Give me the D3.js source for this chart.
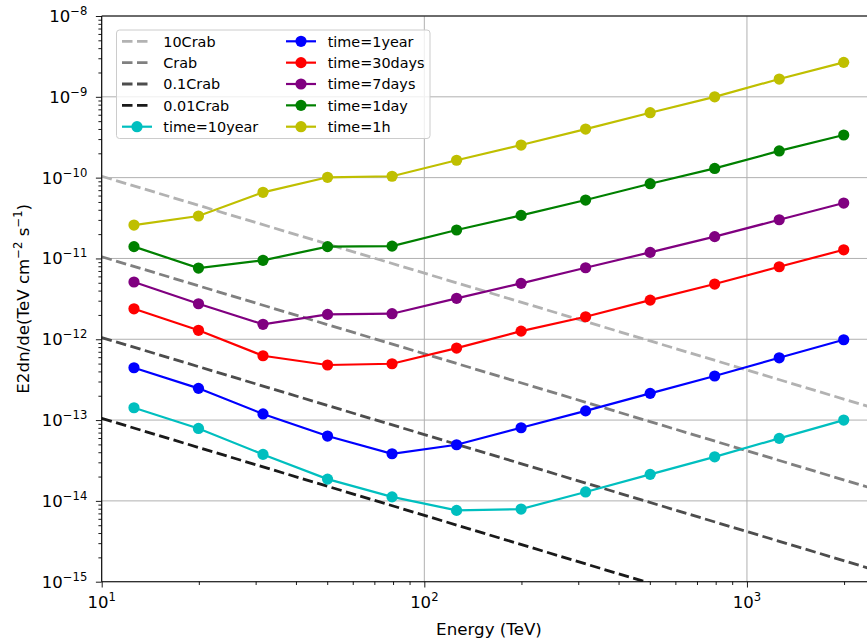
<!DOCTYPE html>
<html><head><meta charset="utf-8">
<script src="https://cdn.jsdelivr.net/npm/d3@7"></script>
<style>body{margin:0;background:#fff;overflow:hidden} text{font-family:"DejaVu Sans",sans-serif;fill:#000}</style>
</head><body><svg id="c" width="867" height="642"></svg>
<script>
// ---- data ----
const energies = [12.59, 19.95, 31.62, 50.12, 79.43, 125.9, 199.5, 316.2, 501.2, 794.3, 1259, 1995];
const time10year = [1.42e-13, 7.88e-14, 3.76e-14, 1.86e-14, 1.12e-14, 7.63e-15, 7.92e-15, 1.29e-14, 2.13e-14, 3.51e-14, 5.94e-14, 1.0e-13];
const time1year  = [4.44e-13, 2.47e-13, 1.19e-13, 6.34e-14, 3.83e-14, 4.95e-14, 8.03e-14, 1.30e-13, 2.14e-13, 3.51e-13, 5.90e-13, 9.86e-13];
const time30days = [2.38e-12, 1.29e-12, 6.25e-13, 4.80e-13, 4.98e-13, 7.78e-13, 1.26e-12, 1.90e-12, 3.05e-12, 4.82e-12, 7.89e-12, 1.28e-11];
const time7days  = [5.11e-12, 2.75e-12, 1.53e-12, 2.03e-12, 2.07e-12, 3.21e-12, 4.92e-12, 7.67e-12, 1.19e-11, 1.86e-11, 3.01e-11, 4.85e-11];
const time1day   = [1.40e-11, 7.61e-12, 9.48e-12, 1.40e-11, 1.42e-11, 2.25e-11, 3.41e-11, 5.28e-11, 8.41e-11, 1.30e-10, 2.14e-10, 3.37e-10];
const time1h     = [2.59e-11, 3.35e-11, 6.58e-11, 1.01e-10, 1.04e-10, 1.64e-10, 2.53e-10, 3.99e-10, 6.36e-10, 1.00e-9, 1.66e-9, 2.67e-9];

const crabEnergies = [10, 2512];
const crab10x  = [1.04e-10, 1.38e-13];
const crab1x   = [1.05e-11, 1.38e-14];
const crab01x  = [1.05e-12, 1.38e-15];
const crab001x = [1.05e-13, 1.38e-16];

const xTicks = [10, 100, 1000];
const yTicks = [1e-15, 1e-14, 1e-13, 1e-12, 1e-11, 1e-10, 1e-9, 1e-8];

const crabSeries = [
  {name: "10Crab", values: crab10x, color: "#b2b2b2"},
  {name: "Crab", values: crab1x, color: "#808080"},
  {name: "0.1Crab", values: crab01x, color: "#4d4d4d"},
  {name: "0.01Crab", values: crab001x, color: "#1a1a1a"}
];
const timeSeries = [
  {name: "time=10year", values: time10year, color: "#00bfbf"},
  {name: "time=1year", values: time1year, color: "#0000ff"},
  {name: "time=30days", values: time30days, color: "#ff0000"},
  {name: "time=7days", values: time7days, color: "#800080"},
  {name: "time=1day", values: time1day, color: "#008000"},
  {name: "time=1h", values: time1h, color: "#bfbf00"}
];

// ---- layout ----
const L = 101.7, R = 876, T = 16, B = 581.7;
const svg = d3.select("#c");
const x = d3.scaleLog().domain([10, 2512]).range([L, R]);
const y = d3.scaleLog().domain([1e-15, 1e-8]).range([B, T]);

svg.append("defs").append("clipPath").attr("id", "clip")
  .append("rect").attr("x", L).attr("y", T).attr("width", R - L).attr("height", B - T);

// grid
const grid = svg.append("g");
xTicks.forEach(t => grid.append("line").attr("x1", x(t)).attr("x2", x(t)).attr("y1", T).attr("y2", B)
  .attr("stroke", "#b0b0b0").attr("stroke-width", 1));
yTicks.forEach(t => grid.append("line").attr("x1", L).attr("x2", R).attr("y1", y(t)).attr("y2", y(t))
  .attr("stroke", "#b0b0b0").attr("stroke-width", 1));

const plot = svg.append("g").attr("clip-path", "url(#clip)");
const line = d3.line().x(d => x(d[0])).y(d => y(d[1]));

crabSeries.forEach(s => {
  plot.append("path").datum(crabEnergies.map((e, i) => [e, s.values[i]]))
    .attr("d", line).attr("fill", "none").attr("stroke", s.color)
    .attr("stroke-width", 2.8).attr("stroke-dasharray", "10.5,4.5");
});

timeSeries.forEach(s => {
  const pts = energies.map((e, i) => [e, s.values[i]]);
  plot.append("path").datum(pts).attr("d", line).attr("fill", "none")
    .attr("stroke", s.color).attr("stroke-width", 2.2);
  plot.selectAll(null).data(pts).enter().append("circle")
    .attr("cx", d => x(d[0])).attr("cy", d => y(d[1])).attr("r", 5.6).attr("fill", s.color);
});

// axes
const xAxis = d3.axisBottom(x).tickValues(xTicks).tickSize(5.8).tickFormat("");
const gx = svg.append("g").attr("transform", `translate(0,${B})`).call(xAxis);
const xMinor = [];
[10, 100, 1000].forEach(d => { for (let k = 2; k <= 9; k++) { const v = d * k; if (v <= 2512) xMinor.push(v); } });
const gxm = svg.append("g").attr("transform", `translate(0,${B})`)
  .call(d3.axisBottom(x).tickValues(xMinor).tickSize(3.3).tickFormat(""));
const yAxis = d3.axisLeft(y).tickValues(yTicks).tickSize(5.8).tickFormat("");
const gy = svg.append("g").attr("transform", `translate(${L},0)`).call(yAxis);
const yMinor = [];
yTicks.slice(0, -1).forEach(d => { for (let k = 2; k <= 9; k++) yMinor.push(d * k); });
const gym = svg.append("g").attr("transform", `translate(${L},0)`)
  .call(d3.axisLeft(y).tickValues(yMinor).tickSize(3.3).tickFormat(""));
[gx, gxm, gy, gym].forEach(g => {
  g.select(".domain").remove();
  g.selectAll(".tick line").attr("stroke", "#000").attr("stroke-width", 0.9);
});

// spines
svg.append("line").attr("x1", L).attr("x2", L).attr("y1", T).attr("y2", B).attr("stroke", "#000").attr("stroke-width", 1.1);
svg.append("line").attr("x1", L).attr("x2", R).attr("y1", B).attr("y2", B).attr("stroke", "#000").attr("stroke-width", 1.1);
svg.append("line").attr("x1", L).attr("x2", R).attr("y1", T).attr("y2", T).attr("stroke", "#000").attr("stroke-width", 1.1);
svg.append("line").attr("x1", R).attr("x2", R).attr("y1", T).attr("y2", B).attr("stroke", "#000").attr("stroke-width", 1.1);

// tick labels
const fs = 16.5, efs = 11.6;
xTicks.forEach(t => {
  const tx = svg.append("text").attr("x", x(t)).attr("y", B + 26.6).attr("text-anchor", "middle").attr("font-size", fs);
  tx.append("tspan").text("10");
  tx.append("tspan").attr("dy", -7).attr("font-size", efs).text(String(Math.round(Math.log10(t))));
});
yTicks.forEach(t => {
  const tx = svg.append("text").attr("x", L - 14.4).attr("y", y(t) + 6).attr("text-anchor", "end").attr("font-size", fs);
  tx.append("tspan").text("10");
  tx.append("tspan").attr("dy", -7).attr("font-size", efs).text("\u2212" + Math.abs(Math.round(Math.log10(t))));
});

// axis labels
svg.append("text").attr("x", 489).attr("y", 635).attr("text-anchor", "middle").attr("font-size", 16.7).text("Energy (TeV)");
const yl = svg.append("text").attr("transform", `translate(28.5,${(T + B) / 2}) rotate(-90)`)
  .attr("text-anchor", "middle").attr("font-size", 16.7);
yl.append("tspan").text("E2dn/de(TeV cm");
yl.append("tspan").attr("dy", -7).attr("font-size", efs).text("\u22122");
yl.append("tspan").attr("dy", 7).text(" s");
yl.append("tspan").attr("dy", -7).attr("font-size", efs).text("\u22121");
yl.append("tspan").attr("dy", 7).text(")");

// legend
const lg = svg.append("g");
lg.append("rect").attr("x", 116.5).attr("y", 30).attr("width", 313.5).attr("height", 108.5).attr("rx", 3)
  .attr("fill", "#fff").attr("fill-opacity", 0.8).attr("stroke", "#cccccc").attr("stroke-width", 1);
const legendItems = crabSeries.map(s => ({...s, dashed: true})).concat(timeSeries.map(s => ({...s, dashed: false})));
legendItems.forEach((s, i) => {
  const col = i < 5 ? 0 : 1;
  const row = i < 5 ? i : i - 5;
  const cy = 41.3 + row * 21.35;
  const hx = col === 0 ? 122 : 286;
  const tx = col === 0 ? 163.3 : 327.7;
  const ln = lg.append("line").attr("x1", hx).attr("x2", hx + 30).attr("y1", cy).attr("y2", cy).attr("stroke", s.color);
  if (s.dashed) ln.attr("stroke-width", 2.8).attr("stroke-dasharray", "10.5,4.5");
  else {
    ln.attr("stroke-width", 2.2);
    lg.append("circle").attr("cx", hx + 15).attr("cy", cy).attr("r", 5.6).attr("fill", s.color);
  }
  lg.append("text").attr("x", tx).attr("y", cy + 5.4).attr("font-size", 14.4).text(s.name);
});
</script></body></html>
